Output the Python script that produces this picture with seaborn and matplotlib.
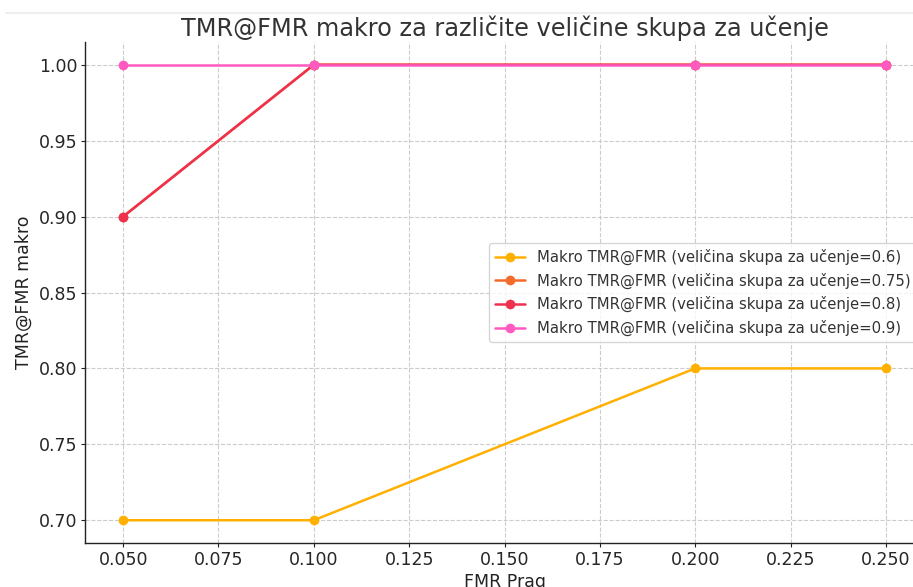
import matplotlib
matplotlib.use("Agg")
import matplotlib.pyplot as plt
import seaborn as sns
import pandas as pd

# FMR thresholds and macro TMR@FMR per training-set size
fmr_thresholds = [0.05, 0.1, 0.2, 0.25]
train_sizes = ["0.6", "0.75", "0.8", "0.9"]
tmr_06 = [0.70, 0.70, 0.80, 0.80]
tmr_075 = [0.90, 1.00, 1.00, 1.00]
tmr_08 = [0.90, 1.00, 1.00, 1.00]
tmr_09 = [1.00, 1.00, 1.00, 1.00]
series_colors = ["#FFB000", "#F26B2A", "#F0304F", "#FF5AC0"]

rows = []
for size, vals in zip(train_sizes, [tmr_06, tmr_075, tmr_08, tmr_09]):
    for x, y in zip(fmr_thresholds, vals):
        rows.append({"FMR": x, "TMR": y,
                     "serija": f"Makro TMR@FMR (veličina skupa za učenje={size})"})
df = pd.DataFrame(rows)

sns.set_theme(style="white")
plt.rcParams["font.family"] = ["DejaVu Sans"]

fig = plt.figure(figsize=(9.13, 5.87), dpi=100)
ax = fig.add_axes([85 / 913, 1 - 543 / 587, (924 - 85) / 913, (543 - 42) / 587])

sns.lineplot(data=df, x="FMR", y="TMR", hue="serija",
             palette=series_colors, marker="o", markersize=7,
             markeredgewidth=0, linewidth=1.8, ax=ax)

ax.grid(True, linestyle="--", color="#cccccc", linewidth=0.8)
ax.set_axisbelow(True)
for side in ["top", "right"]:
    ax.spines[side].set_visible(False)
for side in ["left", "bottom"]:
    ax.spines[side].set_color("#222222")
    ax.spines[side].set_linewidth(1.0)
ax.tick_params(axis="both", which="major", labelsize=12.5, length=3,
               width=0.8, color="#222222", pad=2.5, bottom=True, left=True)
ax.set_xticks([0.05, 0.075, 0.1, 0.125, 0.15, 0.175, 0.2, 0.225, 0.25])
ax.set_xlim(0.04, 0.26)
ax.set_ylim(0.685, 1.015)

ax.set_title("TMR@FMR makro za različite veličine skupa za učenje",
             fontsize=17.3, color="#333333", pad=4)
ax.set_xlabel("FMR Prag", fontsize=12.5, color="#222222", labelpad=3)
ax.set_ylabel("TMR@FMR makro", fontsize=12.5, color="#222222")

leg = ax.legend(loc="center right", fontsize=10.7, frameon=True, title=None)
leg.get_frame().set_edgecolor("#cccccc")
for t in leg.get_texts():
    t.set_color("#333333")

# faint band along the top edge
fig.add_artist(plt.Line2D([6 / 913, 1.0], [1 - 13 / 587] * 2,
                          transform=fig.transFigure, color="#eeeeee", linewidth=1.5))

fig.savefig("out.png", dpi=100)
